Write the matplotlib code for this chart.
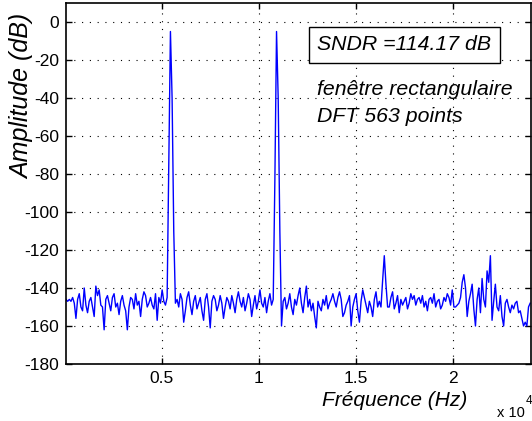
import numpy as np
import matplotlib
matplotlib.use('Agg')
import matplotlib.pyplot as plt
from matplotlib import font_manager

plt.rcParams['axes.unicode_minus'] = False

# DFT setup (one-sided spectrum, bins 1..281)
fs = 48000
n_dft = 563
bins = np.arange(1, 282)

# amplitude in dB, bin by bin
amplitude_db = [
    -146, -147, -146, -147, -145, -148, -156, -146, -143, -150,
    -152, -140, -149, -153, -147, -145, -150, -155, -139, -144,
    -141, -149, -150, -162, -146, -144, -148, -152, -145, -143,
    -150, -148, -154, -147, -144, -149, -152, -162, -150, -145,
    -146, -151, -143, -149, -147, -155, -146, -142, -144, -150,
    -148, -145, -149, -151, -143, -157, -145, -148, -141, -147,
    -149, -145,
    -75, -5, -40, -110,
    -148, -146, -150, -143, -146, -158, -152, -145, -142, -149,
    -154, -147, -144, -151,
    -148, -145, -152, -157, -146, -143, -150, -161, -147, -144,
    -146, -152, -149, -144, -148, -156, -150, -145, -147, -151,
    -144, -148, -153, -146, -142, -147, -150, -145, -152, -148,
    -143, -146, -155, -149, -144, -151, -147, -141, -148, -150,
    -145, -153, -147, -143, -149, -146,
    -83, -5, -40, -110, -160,
    -147, -145, -151, -148, -143, -150, -154, -146, -149, -144,
    -140, -148, -153, -145, -139, -150, -146, -152, -148,
    -155, -161, -147, -150, -152, -146, -149, -144, -151, -148,
    -146, -143, -147, -150, -145, -142, -146, -155, -153, -149,
    -147, -144, -160, -150, -146, -143, -152, -158, -147, -141,
    -145, -149, -153, -147, -150, -155, -146, -142, -150, -147,
    -150, -136, -123, -138, -150, -150, -145, -142, -151, -148,
    -144, -153, -146, -149, -147, -145, -151, -148, -143, -146,
    -144, -149, -146, -145, -148, -144, -150, -147, -152, -146,
    -145, -148, -143, -150, -147, -146, -151, -149, -145, -147,
    -143, -145, -149, -141, -150, -150, -149, -148, -145, -137,
    -133, -140, -155, -147, -143, -138, -151, -160, -146, -140,
    -153, -135, -146, -150, -131, -137, -123, -157, -147, -138,
    -150, -152, -144, -155, -160, -148, -146, -150, -153, -149,
    -151, -148, -147, -153, -152, -156, -160, -158, -160, -150,
    -148,
]

yticks = [0, -20, -40, -60, -80, -100, -120, -140, -160, -180]
xticks = [5000, 10000, 15000, 20000]
xtick_labels = ['0.5', '1', '1.5', '2']

annot_lines = ['SNDR =114.17 dB', 'fenêtre rectangulaire', 'DFT 563 points']

freq = bins * fs / n_dft

installed = {f.name for f in font_manager.fontManager.ttflist}
tick_font = 'Liberation Sans Narrow' if 'Liberation Sans Narrow' in installed else 'Liberation Sans'
text_font = 'Liberation Sans'

W, H = 532, 421
fig = plt.figure(figsize=(W / 100, H / 100), dpi=100)
ax = fig.add_axes([66 / W, 1 - 364 / H, (531 - 66) / W, (364 - 3) / H])

ax.plot(freq, amplitude_db, color='#0000ff', lw=1.0)

ax.set_xlim(fs / n_dft, 24000)
ax.set_ylim(-180, 10)
ax.set_xticks(xticks)
ax.set_xticklabels(xtick_labels)
ax.set_yticks(yticks)
ax.grid(True, color='black', linestyle=(0, (1, 6)), lw=0.8)

ax.tick_params(direction='in', length=4, width=1, top=True, right=True,
               labelsize=12.5, colors='black', pad=5)
for lab in ax.get_xticklabels() + ax.get_yticklabels():
    lab.set_fontfamily(tick_font)
for sp in ax.spines.values():
    sp.set_linewidth(1.2)

# annotations in data coordinates
ax.text(13000, -14.9, annot_lines[0], fontsize=15.3, style='italic',
        family=text_font, va='baseline',
        bbox=dict(boxstyle='square,pad=0.4', fc='white', ec='black', lw=1))
ax.text(13000, -38.4, annot_lines[1], fontsize=15.3, style='italic',
        family=text_font, va='baseline')
ax.text(13000, -52.6, annot_lines[2], fontsize=15.3, style='italic',
        family=text_font, va='baseline')

# axis labels placed like the original
fig.text(22 / W, 1 - 96 / H, 'Amplitude (dB)', rotation=90, fontsize=18,
         style='italic', family=text_font, ha='center', va='center')
fig.text(395 / W, 1 - 401 / H, 'Fréquence (Hz)', fontsize=15,
         style='italic', family=text_font, ha='center', va='center')
fig.text(497 / W, 1 - 417 / H, 'x 10', fontsize=10.5, family=tick_font,
         ha='left', va='baseline')
fig.text(526 / W, 1 - 404 / H, '4', fontsize=8.5, family=tick_font,
         ha='left', va='baseline')

fig.savefig('out.png', dpi=100)
